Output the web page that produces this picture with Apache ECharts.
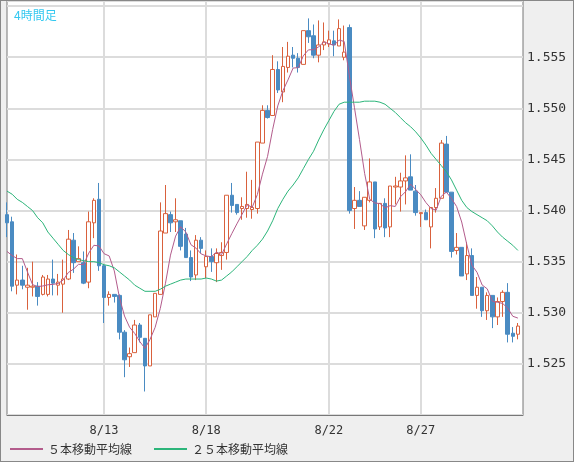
<!DOCTYPE html>
<html>
<head>
<meta charset="utf-8">
<script src="https://cdn.jsdelivr.net/npm/echarts@6/dist/echarts.min.js"></script>
<style>
html,body{margin:0;padding:0;background:#efefef;}
#main{width:574px;height:462px;box-sizing:border-box;border:1px solid #888;}
</style>
</head>
<body>
<div id="main"></div>
<script>
// 4時間足 ローソク [open, close, low, high]
var candles = [
  [1.5396,1.5388,1.5374,1.5408],[1.5389,1.5326,1.5321,1.5394],[1.5327,1.5332,1.5318,1.5357],[1.5332,1.5327,1.5323,1.5346],
  [1.5325,1.5327,1.5303,1.5344],[1.5325,1.5326,1.5316,1.5350],[1.5326,1.5316,1.5307,1.5330],[1.5318,1.5335,1.5317,1.5337],
  [1.5318,1.5333,1.5316,1.5337],[1.5333,1.5329,1.5317,1.5352],[1.5327,1.5330,1.5317,1.5338],[1.5328,1.5333,1.5300,1.5352],
  [1.5333,1.5372,1.5332,1.5381],[1.5371,1.5349,1.5339,1.5378],[1.5350,1.5353,1.5350,1.5365],[1.5349,1.5329,1.5328,1.5360],
  [1.5330,1.5389,1.5324,1.5399],[1.5388,1.5410,1.5373,1.5412],[1.5411,1.5346,1.5341,1.5427],[1.5346,1.5315,1.5290,1.5347],
  [1.5315,1.5318,1.5307,1.5321],[1.5318,1.5316,1.5310,1.5318],[1.5317,1.5281,1.5274,1.5318],[1.5281,1.5254,1.5237,1.5283],
  [1.5257,1.5260,1.5247,1.5266],[1.5261,1.5288,1.5261,1.5293],[1.5288,1.5276,1.5271,1.5290],[1.5275,1.5248,1.5223,1.5275],
  [1.5248,1.5298,1.5248,1.5298],[1.5296,1.5319,1.5296,1.5319],[1.5318,1.5380,1.5318,1.5408],[1.5378,1.5397,1.5378,1.5425],
  [1.5396,1.5388,1.5379,1.5399],[1.5389,1.5391,1.5379,1.5412],[1.5390,1.5365,1.5361,1.5390],[1.5377,1.5354,1.5354,1.5383],
  [1.5354,1.5335,1.5331,1.5361],[1.5337,1.5371,1.5332,1.5376],[1.5371,1.5363,1.5358,1.5374],[1.5345,1.5355,1.5334,1.5361],
  [1.5355,1.5350,1.5340,1.5363],[1.5349,1.5358,1.5330,1.5363],[1.5356,1.5359,1.5342,1.5369],[1.5359,1.5415,1.5352,1.5415],
  [1.5415,1.5405,1.5398,1.5427],[1.5406,1.5398,1.5396,1.5406],[1.5402,1.5404,1.5391,1.5413],[1.5402,1.5406,1.5393,1.5438],
  [1.5401,1.5403,1.5392,1.5430],[1.5402,1.5467,1.5397,1.5467],[1.5466,1.5498,1.5466,1.5503],[1.5498,1.5491,1.5490,1.5503],
  [1.5493,1.5538,1.5493,1.5552],[1.5538,1.5518,1.5515,1.5546],[1.5516,1.5541,1.5506,1.5560],[1.5540,1.5551,1.5535,1.5565],
  [1.5552,1.5549,1.5540,1.5560],[1.5549,1.5540,1.5535,1.5554],[1.5543,1.5576,1.5543,1.5576],[1.5576,1.5570,1.5564,1.5588],
  [1.5571,1.5552,1.5549,1.5582],[1.5552,1.5562,1.5545,1.5586],[1.5562,1.5565,1.5557,1.5584],[1.5563,1.5567,1.5560,1.5576],
  [1.5566,1.5562,1.5551,1.5576],[1.5561,1.5578,1.5561,1.5587],[1.5550,1.5555,1.5547,1.5581],[1.5579,1.5400,1.5397,1.5582],
  [1.5402,1.5410,1.5382,1.5423],[1.5410,1.5404,1.5404,1.5419],[1.5385,1.5413,1.5381,1.5413],[1.5410,1.5428,1.5408,1.5451],
  [1.5428,1.5382,1.5373,1.5428],[1.5384,1.5407,1.5381,1.5407],[1.5407,1.5383,1.5374,1.5412],[1.5384,1.5424,1.5374,1.5424],
  [1.5423,1.5424,1.5406,1.5433],[1.5423,1.5429,1.5399,1.5437],[1.5429,1.5432,1.5406,1.5454],[1.5433,1.5420,1.5420,1.5455],
  [1.5419,1.5398,1.5395,1.5425],[1.5397,1.5398,1.5384,1.5398],[1.5398,1.5391,1.5391,1.5401],[1.5384,1.5403,1.5363,1.5403],
  [1.5403,1.5412,1.5398,1.5422],[1.5412,1.5466,1.5412,1.5469],[1.5465,1.5418,1.5418,1.5473],[1.5418,1.5360,1.5354,1.5418],
  [1.5361,1.5364,1.5357,1.5378],[1.5364,1.5336,1.5336,1.5364],[1.5338,1.5356,1.5332,1.5369],[1.5356,1.5317,1.5317,1.5363],
  [1.5317,1.5325,1.5304,1.5335],[1.5325,1.5302,1.5296,1.5325],[1.5302,1.5317,1.5293,1.5320],[1.5317,1.5296,1.5285,1.5317],
  [1.5296,1.5311,1.5288,1.5315],[1.5311,1.5320,1.5296,1.5322],[1.5320,1.5279,1.5271,1.5329],[1.5280,1.5277,1.5271,1.5286],
  [1.5279,1.5287,1.5274,1.5290]
];

// 25本移動平均（チャートから読み取り）
var ma25 = [
  1.5419,1.5416,1.5411,1.5408,1.5404,1.5400,1.5393,1.5388,1.5379,1.5373,
  1.5367,1.5361,1.5357,1.5354,1.5352,1.5351,1.5350,1.5350,1.5349,1.5347,
  1.5346,1.5344,1.5340,1.5336,1.5332,1.5327,1.5324,1.5321,1.5321,1.5321,
  1.5323,1.5326,1.5328,1.5330,1.5332,1.5333,1.5333,1.5333,1.5333,1.5334,
  1.5333,1.5331,1.5332,1.5336,1.5340,1.5345,1.5350,1.5355,1.5361,1.5366,
  1.5372,1.5380,1.5390,1.5402,1.5411,1.5419,1.5425,1.5432,1.5441,1.5450,
  1.5458,1.5469,1.5479,1.5488,1.5497,1.5504,1.5506,1.5506,1.5506,1.5506,
  1.5507,1.5507,1.5507,1.5506,1.5504,1.5500,1.5496,1.5491,1.5486,1.5482,
  1.5477,1.5471,1.5464,1.5456,1.5450,1.5444,1.5438,1.5430,1.5420,1.5410,
  1.5403,1.5399,1.5396,1.5393,1.5390,1.5385,1.5379,1.5374,1.5370,1.5366,
  1.5361
];
// 5本移動平均の先頭4本（表示範囲外の足を含むため読み取り値）
var ma5Head = [1.5360, 1.5356, 1.5353, 1.5353];

var tickIndex = [19, 39, 63, 81];
var tickLabels = ['8/13', '8/18', '8/22', '8/27'];

var yTicks = [1.525, 1.530, 1.535, 1.540, 1.545, 1.550, 1.555];

// 5本移動平均
var ma5 = [];
for (var i = 0; i < candles.length; i++) {
  if (i < 4) { ma5.push(ma5Head[i]); continue; }
  var s = 0;
  for (var j = i - 4; j <= i; j++) s += candles[j][1];
  ma5.push(+(s / 5).toFixed(5));
}

// 右端に空きを1本
var cats = [];
for (var k = 0; k <= candles.length; k++) cats.push(String(k));

var chart = echarts.init(document.getElementById('main'));
chart.setOption({
  animation: false,
  backgroundColor: '#efefef',
  title: {
    text: '4時間足',
    left: 8, top: 3,
    textStyle: { color: '#33c8f0', fontSize: 12, fontWeight: 'normal', fontFamily: 'Noto Sans CJK JP' }
  },
  legend: {
    left: 4, top: 437,
    itemWidth: 33, itemHeight: 2, itemGap: 22,
    icon: 'rect',
    textStyle: { color: '#333', fontSize: 12, fontFamily: 'Noto Sans CJK JP' },
    data: ['５本移動平均線', '２５本移動平均線']
  },
  grid: {
    left: 6, right: 50, top: 0, bottom: 46,
    show: true, backgroundColor: '#fff', borderColor: '#777', borderWidth: 1
  },
  xAxis: {
    type: 'category',
    data: cats,
    boundaryGap: false,
    axisLine: { lineStyle: { color: '#777' } },
    axisTick: { show: false },
    axisLabel: {
      color: '#333', fontSize: 12, fontFamily: 'DejaVu Sans Mono', margin: 10,
      interval: function (idx) { return tickIndex.indexOf(idx) >= 0; },
      formatter: function (v, idx) { var p = tickIndex.indexOf(idx); return p >= 0 ? tickLabels[p] : ''; }
    },
    splitLine: {
      show: true,
      interval: function (idx) { return tickIndex.indexOf(idx) >= 0; },
      lineStyle: { color: '#dcdcdc', width: 2 }
    }
  },
  yAxis: {
    type: 'value',
    position: 'right',
    min: 1.52, max: 1.5605, interval: 0.005,
    axisLine: { show: false },
    axisTick: { show: false },
    axisLabel: {
      color: '#333', fontSize: 13, fontFamily: 'DejaVu Sans Mono', margin: 4,
      showMaxLabel: false, showMinLabel: false,
      formatter: function (v) {
        for (var t = 0; t < yTicks.length; t++) if (Math.abs(yTicks[t] - v) < 1e-6) return v.toFixed(3);
        return '';
      }
    },
    splitLine: { lineStyle: { color: '#dcdcdc', width: 2 } }
  },
  series: [
    {
      type: 'candlestick',
      data: candles,
      barWidth: 4,
      itemStyle: {
        color: '#fff', color0: '#4a8bc2',
        borderColor: '#d9613d', borderColor0: '#4a8bc2', borderWidth: 1
      }
    },
    {
      name: '５本移動平均線',
      type: 'line', data: ma5, symbol: 'none',
      lineStyle: { color: '#b35c8c', width: 1 }, itemStyle: { color: '#b35c8c' }
    },
    {
      name: '２５本移動平均線',
      type: 'line', data: ma25, symbol: 'none',
      lineStyle: { color: '#2cb57a', width: 1 }, itemStyle: { color: '#2cb57a' }
    }
  ]
});
</script>
</body>
</html>
